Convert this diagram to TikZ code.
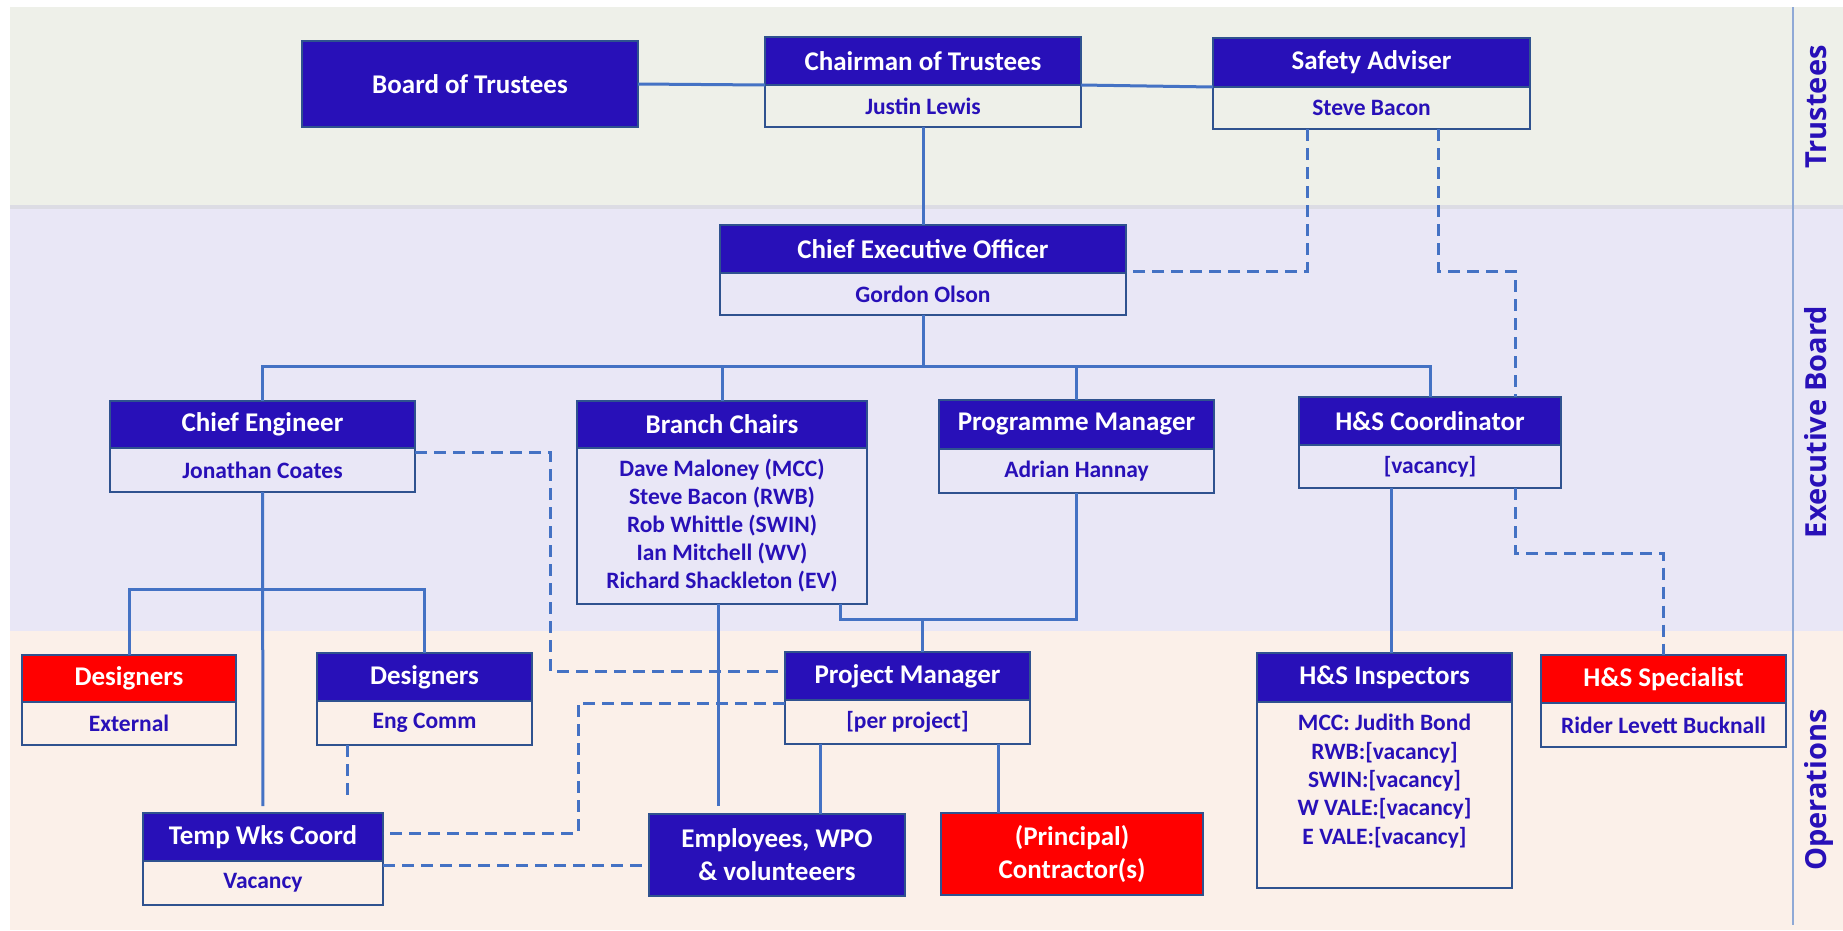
\documentclass[tikz,border=0pt]{standalone}
\usepackage{fontspec}
\setmainfont{Carlito}
\newfontfamily\labelfont{Open Sans}
\definecolor{hdrblue}{RGB}{40,16,184}
\definecolor{boxred}{RGB}{255,0,0}
\definecolor{boxline}{RGB}{47,82,143}
\definecolor{connblue}{RGB}{68,114,196}
\definecolor{bandT}{RGB}{238,240,233}
\definecolor{bandE}{RGB}{233,231,246}
\definecolor{bandO}{RGB}{251,240,233}
\definecolor{bandsep}{RGB}{220,220,228}
\definecolor{vline}{RGB}{143,169,214}
\newcommand\titlef{\fontsize{27}{33}\bfseries\selectfont}
\newcommand\bodyf{\fontsize{23.5}{28}\bfseries\selectfont}
\newcommand\inspf{\fontsize{23.5}{28.3}\bfseries\selectfont}
\newcommand\bandf{\labelfont\fontsize{29}{33}\bfseries\selectfont}
\tikzset{
  hdr/.style={draw=boxline, line width=1.8pt, fill=hdrblue, text=white, font=\titlef, inner sep=0pt, outer sep=0pt, align=center},
  redhdr/.style={hdr, fill=boxred},
  bdy/.style={draw=boxline, line width=1.8pt, text=hdrblue, font=\bodyf, inner sep=0pt, outer sep=0pt, align=center},
  plaintext/.style={text=hdrblue, font=\inspf, inner sep=0pt, align=center},
  bandlabel/.style={rotate=90, anchor=base, text=hdrblue, font=\bandf, inner sep=0pt},
  conn/.style={draw=connblue, line width=3pt},
  dashconn/.style={conn, dash pattern=on 12pt off 7pt},
}
\begin{document}
\begin{tikzpicture}[x=1pt, y=-1pt]
\useasboundingbox (0,0) rectangle (1843,930);
% bands
\fill[bandT] (10,7) rectangle (1843,205);
\fill[bandsep] (10,205) rectangle (1843,209);
\fill[bandE] (10,209) rectangle (1843,631);
\fill[bandO] (10,631) rectangle (1843,930);
\draw[vline, line width=1.5pt] (1793,7) -- (1793,925);
\node[bandlabel] (lblT) at (1826,107) {Trustees};
\node[bandlabel] (lblE) at (1826,422) {Executive Board};
\node[bandlabel] (lblO) at (1826,790) {Operations};

% Trustees
\node[hdr, minimum width=336pt, minimum height=86pt] (bot) at (470,84) {Board of Trustees};
\node[hdr, minimum width=316pt, minimum height=48pt] (chair-h) at (923,61) {Chairman of Trustees};
\node[bdy, minimum width=316pt, minimum height=42pt] (chair-b) at (923,106) {Justin Lewis};
\node[hdr, minimum width=317pt, minimum height=49pt] (sa-h) at (1371.5,62.5) {Safety Adviser};
\node[bdy, minimum width=317pt, minimum height=42pt] (sa-b) at (1371.5,108) {Steve Bacon};

% Executive
\node[hdr, minimum width=406pt, minimum height=48pt] (ceo-h) at (923,249) {Chief Executive Officer};
\node[bdy, minimum width=406pt, minimum height=42pt] (ceo-b) at (923,294) {Gordon Olson};
\node[hdr, minimum width=305pt, minimum height=47pt] (ce-h) at (262.5,424.5) {Chief Engineer};
\node[bdy, minimum width=305pt, minimum height=44pt] (ce-b) at (262.5,470) {Jonathan Coates};
\node[hdr, minimum width=290pt, minimum height=47pt] (bc-h) at (722,424.5) {Branch Chairs};
\node[bdy, minimum width=290pt, minimum height=156pt] (bc-b) at (722,526) {Dave Maloney (MCC)\\Steve Bacon (RWB)\\Rob Whittle (SWIN)\\Ian Mitchell (WV)\\Richard Shackleton (EV)};
\node[hdr, minimum width=275pt, minimum height=49pt] (pgm-h) at (1076.5,424.5) {Programme Manager};
\node[bdy, minimum width=275pt, minimum height=44pt] (pgm-b) at (1076.5,471) {Adrian Hannay};
\node[hdr, minimum width=262pt, minimum height=48pt] (hsc-h) at (1430,421) {H\&S Coordinator};
\node[bdy, minimum width=262pt, minimum height=43pt] (hsc-b) at (1430,466.5) {[vacancy]};

% Operations
\node[redhdr, minimum width=214pt, minimum height=47pt] (desx-h) at (129,678.5) {Designers};
\node[bdy, minimum width=214pt, minimum height=43pt] (desx-b) at (129,723.5) {External};
\node[hdr, minimum width=215pt, minimum height=48pt] (dese-h) at (424.5,677) {Designers};
\node[bdy, minimum width=215pt, minimum height=44pt] (dese-b) at (424.5,723) {Eng Comm};
\node[hdr, minimum width=245pt, minimum height=48pt] (pjm-h) at (907.5,676) {Project Manager};
\node[bdy, minimum width=245pt, minimum height=44pt] (pjm-b) at (907.5,722) {[per project]};
\node[hdr, minimum width=255pt, minimum height=49pt] (hsi-h) at (1384.5,677.5) {H\&S Inspectors};
\node[bdy, minimum width=255pt, minimum height=186pt] (hsi-b) at (1384.5,795) {};
\node[plaintext] (hsi-t) at (1384.5,781) {MCC: Judith Bond\\RWB:[vacancy]\\SWIN:[vacancy]\\W VALE:[vacancy]\\E VALE:[vacancy]};
\node[redhdr, minimum width=245pt, minimum height=48pt] (hss-h) at (1663.5,679) {H\&S Specialist};
\node[bdy, minimum width=245pt, minimum height=44pt] (hss-b) at (1663.5,725) {Rider Levett Bucknall};
\node[hdr, minimum width=240pt, minimum height=48pt] (tw-h) at (263,837) {Temp Wks Coord};
\node[bdy, minimum width=240pt, minimum height=44pt] (tw-b) at (263,883) {Vacancy};
\node[hdr, minimum width=256pt, minimum height=82pt] (emp) at (777,855) {Employees, WPO\\\& volunteeers};
\node[redhdr, minimum width=262pt, minimum height=82pt] (con) at (1072,854) {(Principal)\\Contractor(s)};

% helper coordinates
\coordinate (bus) at (923,366);
\coordinate (desbus) at (262.5,589);
\coordinate (bcA) at (718,0);
\coordinate (pjmjoin) at (922,619);
\coordinate (bcB) at (840,619);
\coordinate (pjA) at (820,0);
\coordinate (pjB) at (998,0);
\coordinate (hsA) at (1391,0);
\coordinate (saA) at (1307,271);
\coordinate (saB) at (1438,271);
\coordinate (saC) at (1515,271);
\coordinate (d1a) at (550,452);
\coordinate (d1b) at (550,671);
\coordinate (d2a) at (578,703);
\coordinate (d2b) at (578,833);
\coordinate (d3) at (347,0);
\coordinate (d4) at (0,865);
\coordinate (d5a) at (1515,553);
\coordinate (d5b) at (1663.5,553);

% solid connectors
\draw[conn] (bot.east) -- (chair-h.south west);
\draw[conn] (chair-h.south east) -- (sa-h.south west);
\draw[conn] (chair-b.south) -- (ceo-h.north);
\draw[conn] (ceo-b.south) -- (bus);
\draw[conn] (ce-h.north) -- (ce-h.north |- bus) -- (hsc-h.north |- bus) -- (hsc-h.north);
\draw[conn] (bc-h.north) -- (bc-h.north |- bus);
\draw[conn] (pgm-h.north) -- (pgm-h.north |- bus);
\draw[conn, shorten >=7pt] (ce-b.south) -- (tw-h.north);
\draw[conn] (desx-h.north) -- (desx-h.north |- desbus) -- (dese-h.north |- desbus) -- (dese-h.north);
\draw[conn, shorten >=8pt] (bcA |- bc-b.south) -- (bcA |- emp.north);
\draw[conn] (bcB |- bc-b.south) -- (bcB) -- (pgm-b.south |- pjmjoin) -- (pgm-b.south);
\draw[conn] (pjmjoin) -- (pjmjoin |- pjm-h.north);
\draw[conn] (pjA |- pjm-b.south) -- (pjA |- emp.north);
\draw[conn] (pjB |- pjm-b.south) -- (pjB |- con.north);
\draw[conn] (hsA |- hsc-b.south) -- (hsA |- hsi-h.north);

% dashed connectors
\draw[dashconn] (saA |- sa-b.south) -- (saA) -- (ceo-b.north east |- saA);
\draw[dashconn] (saB |- sa-b.south) -- (saB) -- (saC) -- (saC |- hsc-h.north);
\draw[dashconn] (ce-b.north east |- d1a) -- (d1a) -- (d1b) -- (pjm-h.west |- d1b);
\draw[dashconn] (pjm-b.west |- d2a) -- (d2a) -- (d2b) -- (tw-h.east |- d2b);
\draw[dashconn, shorten >=12pt] (d3 |- dese-b.south) -- (d3 |- tw-h.north);
\draw[dashconn] (tw-b.east |- d4) -- (emp.west |- d4);
\draw[dashconn] (d5a |- hsc-b.south) -- (d5a) -- (d5b) -- (hss-h.north);
\end{tikzpicture}
\end{document}
